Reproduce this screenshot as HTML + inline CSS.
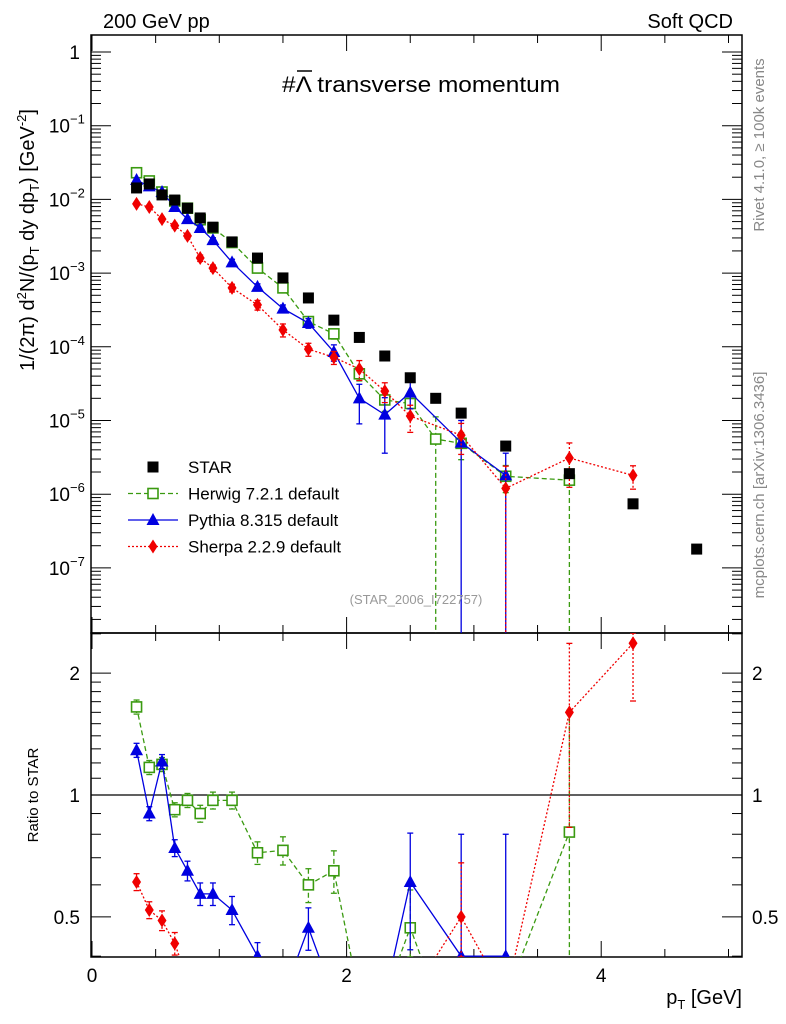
<!DOCTYPE html>
<html><head><meta charset="utf-8"><style>
html,body{margin:0;background:#fff;overflow:hidden;width:786px;height:1024px;}
svg{display:block;font-family:"Liberation Sans",sans-serif;}
</style></head><body>
<svg id="c" width="786" height="1024" viewBox="0 0 786 1024"></svg>
<script>
const xs = [0.35,0.45,0.55,0.65,0.75,0.85,0.95,1.1,1.3,1.5,1.7,1.9,2.1,2.3,2.5,2.7,2.9,3.25,3.75,4.25,4.75];
const starY = [1.43e-2,1.62e-2,1.15e-2,9.8e-3,7.6e-3,5.6e-3,4.2e-3,2.65e-3,1.6e-3,8.6e-4,4.6e-4,2.3e-4,1.34e-4,7.5e-5,3.8e-5,2.0e-5,1.26e-5,4.5e-6,1.9e-6,7.4e-7,1.8e-7];
const herwigX = [0.35,0.45,0.55,0.65,0.75,0.85,0.95,1.1,1.3,1.5,1.7,1.9,2.1,2.3,2.5,2.7,2.9,3.25,3.75];
const herwigY = [2.3e-2,1.78e-2,1.26e-2,9.5e-3,7.6e-3,5.3e-3,4.1e-3,2.6e-3,1.17e-3,6.3e-4,2.2e-4,1.5e-4,4.3e-5,1.9e-5,1.7e-5,5.6e-6,4.9e-6,1.75e-6,1.55e-6];
const herwigErr = [0.05,0.05,0.05,0.05,0.05,0.06,0.06,0.06,0.08,0.1,0.12,0.15,0.2,0.3,0.3,1,0.4,0.4,1];
const pythiaX = [0.35,0.45,0.55,0.65,0.75,0.85,0.95,1.1,1.3,1.5,1.7,1.9,2.1,2.3,2.5,2.9,3.25];
const pythiaY = [1.83e-2,1.5e-2,1.26e-2,7.9e-3,5.4e-3,4.1e-3,2.8e-3,1.4e-3,6.5e-4,3.3e-4,2.1e-4,8.5e-5,2.0e-5,1.2e-5,2.4e-5,5.0e-6,1.8e-6];
const pythiaErr = [0.05,0.05,0.05,0.06,0.07,0.08,0.08,0.1,0.1,0.12,0.15,0.25,0.55,0.7,0.4,1,1];
const sherpaX = [0.35,0.45,0.55,0.65,0.75,0.85,0.95,1.1,1.3,1.5,1.7,1.9,2.1,2.3,2.5,2.9,3.25,3.75,4.25];
const sherpaY = [8.7e-3,7.9e-3,5.4e-3,4.4e-3,3.2e-3,1.6e-3,1.17e-3,6.3e-4,3.7e-4,1.7e-4,9.3e-5,7.2e-5,5.0e-5,2.5e-5,1.15e-5,6.3e-6,1.2e-6,3.1e-6,1.8e-6];
const sherpaErr = [0.06,0.06,0.07,0.08,0.08,0.1,0.1,0.12,0.15,0.2,0.2,0.2,0.3,0.3,0.4,0.45,1,0.6,0.35];
const herwigR = [1.65,1.17,1.19,0.92,0.97,0.90,0.97,0.97,0.72,0.73,0.60,0.65,0.30,0.30,0.47,0.2,0.2,0.2,0.81];
const pythiaR = [1.29,0.90,1.21,0.74,0.65,0.57,0.57,0.52,0.40,0.30,0.47,0.30,0.25,0.25,0.61,0.40,0.40];
const sherpaR = [0.61,0.52,0.49,0.43,0.35,0.3,0.28,0.24,0.23,0.2,0.2,0.3,0.35,0.3,0.3,0.50,0.30,1.60,2.37];
const yTickLabels = ["1","10","10","10","10","10","10","10"];
const yTickExp = ["","\u22121","\u22122","\u22123","\u22124","\u22125","\u22126","\u22127"];
const xTickLabels = ["0","2","4"];
const rTickVals = [0.5,1,2];

const NS="http://www.w3.org/2000/svg", svg=document.getElementById('c');
const L=91,R=742,T=35,MB=633,RB=957;
const X=v=>92+v*127.3;
const Y=v=>52+(-Math.log10(v))*73.7;
const RY=v=>795-Math.log10(v)*405;
function el(t,a,p){const e=document.createElementNS(NS,t);for(const k in a)e.setAttribute(k,a[k]);(p||svg).appendChild(e);return e;}
function txt(s,a,p){const e=el('text',a,p);e.textContent=s;return e;}
const defs=el('defs',{});
const c1=el('clipPath',{id:'cm'},defs);el('rect',{x:L,y:T,width:R-L,height:MB-T},c1);
const c2=el('clipPath',{id:'cr'},defs);el('rect',{x:L,y:MB,width:R-L,height:RB-MB},c2);

const fr=el('rect',{x:L,y:T,width:R-L,height:MB-T,fill:'none',stroke:'#000','stroke-width':1.5});

const fr2=el('rect',{x:L,y:MB,width:R-L,height:RB-MB,fill:'none',stroke:'#000','stroke-width':1.5});


const gx=el('g',{stroke:'#000','stroke-width':1});

for(let v=0;v<=5;v+=0.5){const x=X(v);const len=(v%2===0)?16:8;
 for(const [y0,dir] of [[T,1],[MB,-1],[MB,1],[RB,-1]]) el('line',{x1:x,x2:x,y1:y0,y2:y0+dir*len},gx);}
xTickLabels.forEach((s,i)=>{const t=txt(s,{x:X(i*2),y:982,'font-size':19,'text-anchor':'middle'});
 });
const gy=el('g',{stroke:'#000','stroke-width':1});

for(let d=-8;d<=0;d++)for(let m=1;m<10;m++){const v=m*Math.pow(10,d);const y=Y(v);if(y<T||y>MB)continue;const len=m===1?20:10;
 el('line',{x1:L,x2:L+len,y1:y,y2:y},gy);el('line',{x1:R,x2:R-len,y1:y,y2:y},gy);}
yTickLabels.forEach((s,i)=>{const y=Y(Math.pow(10,-i));
 const t=txt(s,{x:i?70:80,y:y+7,'font-size':19,'text-anchor':'end'});
 
 if(i){const e=txt(yTickExp[i],{x:70,y:y-2,'font-size':13});}});
for(let k=4;k<=25;k++){const v=k/10;if(k>20&&k!==25)continue;const y=RY(v);if(y<MB||y>RB)continue;
 const len=(v===0.5||v===1||v===2)?20:10;el('line',{x1:L,x2:L+len,y1:y,y2:y},gy);el('line',{x1:R,x2:R-len,y1:y,y2:y},gy);}
rTickVals.forEach(v=>{const y=RY(v);
 const a=txt(String(v),{x:80,y:y+7,'font-size':19,'text-anchor':'end'});
 const b=txt(String(v),{x:752,y:y+7,'font-size':19});});
const ref=el('line',{x1:L,x2:R,y1:RY(1),y2:RY(1),stroke:'#000','stroke-width':1.2});


function marker(kind,x,y,col,p){
 if(kind==='sq')return el('rect',{x:x-5.5,y:y-5.5,width:11,height:11,fill:'#000'},p);
 if(kind==='osq')return el('rect',{x:x-5,y:y-5,width:10,height:10,fill:'#fff',stroke:col,'stroke-width':1.6},p);
 if(kind==='tri')return el('polygon',{points:`${x},${y-7} ${x-6.5},${y+5} ${x+6.5},${y+5}`,fill:col},p);
 return el('polygon',{points:`${x},${y-7} ${x-4.5},${y} ${x},${y+7} ${x+4.5},${y}`,fill:col},p);
}
function cl(v,lo,hi){return Math.max(lo,Math.min(hi,v));}
function series(name,xa,ya,err,col,dash,kind,scale,clip,top,bot){
 const g=el('g',{'clip-path':`url(#${clip})`});
 
 const pts=xa.map((x,i)=>`${X(x)},${cl(scale(ya[i]),top-40,bot+40)}`).join(' ');
 el('polyline',{points:pts,fill:'none',stroke:col,'stroke-width':1.3,'stroke-dasharray':dash},g);
 xa.forEach((x,i)=>{const v=ya[i];const e=err[i];
  const cy=scale(v);if(cy>bot+20||cy<top-20)return;
  const y1=cl(scale(v*(1+e)),top,bot),y2=e>=1?bot:cl(scale(v*(1-e)),top,bot);
  el('line',{x1:X(x),x2:X(x),y1:y1,y2:y2,stroke:col,'stroke-width':1.3,'stroke-dasharray':dash},g);
  el('line',{x1:X(x)-3,x2:X(x)+3,y1:y1,y2:y1,stroke:col,'stroke-width':1.3},g);
  if(e<1)el('line',{x1:X(x)-3,x2:X(x)+3,y1:y2,y2:y2,stroke:col,'stroke-width':1.3},g);
  const m=marker(kind,X(x),cy,col,g);
  });
}
series('herwig-series',herwigX,herwigY,herwigErr,'#3a9a10','5,3','osq',Y,'cm',T,MB);
series('pythia-series',pythiaX,pythiaY,pythiaErr,'#0000e0','','tri',Y,'cm',T,MB);
series('sherpa-series',sherpaX,sherpaY,sherpaErr,'#f00000','2,2','dia',Y,'cm',T,MB);
const gs=el('g',{'clip-path':'url(#cm)'});
xs.forEach((x,i)=>{const m=marker('sq',X(x),Y(starY[i]),'#000',gs);});
series('herwig-ratio',herwigX,herwigR,herwigErr.map(e=>e>=1?1:e*0.8),'#3a9a10','5,3','osq',RY,'cr',MB,RB);
series('pythia-ratio',pythiaX,pythiaR,pythiaErr.map(e=>e>=1?1:e*0.8),'#0000e0','','tri',RY,'cr',MB,RB);
series('sherpa-ratio',sherpaX,sherpaR,sherpaErr.map(e=>e>=1?1:e*0.8),'#f00000','2,2','dia',RY,'cr',MB,RB);

const lg=el('g',{});
[['STAR','#000','','sq',false],['Herwig 7.2.1 default','#3a9a10','5,3','osq',true],['Pythia 8.315 default','#0000e0','','tri',true],['Sherpa 2.2.9 default','#f00000','2,2','dia',true]].forEach((r,i)=>{
 const y=467+i*26.5;const e=el('g',{},lg);
 if(r[4])el('line',{x1:128,x2:178,y1:y,y2:y,stroke:r[1],'stroke-width':1.3,'stroke-dasharray':r[2]},e);
 marker(r[3],153,y,r[1],e);
 txt(r[0],{x:188,y:y+6,'font-size':17},e);});

function lab(s,a,name){const t=txt(s,a);return t;}
lab('200 GeV pp',{x:103,y:28,'font-size':20},'plot-energy-label');
lab('Soft QCD',{x:733,y:28,'font-size':20,'text-anchor':'end'},'plot-process-label');
const ti=lab('#',{x:282,y:92,'font-size':22,textLength:278,lengthAdjust:'spacingAndGlyphs'},'plot-title');
const tl=el('tspan',{},ti);tl.textContent='Λ';
const ts=el('tspan',{},ti);ts.textContent=' transverse momentum';
el('line',{x1:297,x2:312,y1:71,y2:71,stroke:'#000','stroke-width':1.5});
lab('(STAR_2006_I722757)',{x:416,y:604,'font-size':13,fill:'#999','text-anchor':'middle'},'analysis-id');
lab('Rivet 4.1.0, ≥ 100k events',{x:0,y:0,'font-size':15,fill:'#888','text-anchor':'middle',transform:'translate(764,145) rotate(-90)'},'rivet-version');
lab('mcplots.cern.ch [arXiv:1306.3436]',{x:0,y:0,'font-size':15,fill:'#888','text-anchor':'middle',transform:'translate(764,485) rotate(-90)'},'mcplots-credit');
const yt=lab('',{x:0,y:0,'font-size':20,'text-anchor':'middle',transform:'translate(34,240) rotate(-90)'},'y-axis-title');
yt.innerHTML='1/(2π)  d<tspan font-size="13" dy="-8">2</tspan><tspan dy="8">N/(p</tspan><tspan font-size="13" dy="5">T</tspan><tspan dy="-5"> dy dp</tspan><tspan font-size="13" dy="5">T</tspan><tspan dy="-5">) [GeV</tspan><tspan font-size="13" dy="-8">-2</tspan><tspan dy="8">]</tspan>';
lab('Ratio to STAR',{x:0,y:0,'font-size':15,'text-anchor':'middle',transform:'translate(38,795) rotate(-90)'},'ratio-y-axis-title');
const xt=lab('',{x:742,y:1004,'font-size':20,'text-anchor':'end'},'x-axis-title');
xt.innerHTML='p<tspan font-size="13" dy="5">T</tspan><tspan dy="-5"> [GeV]</tspan>';
</script>
</body></html>
